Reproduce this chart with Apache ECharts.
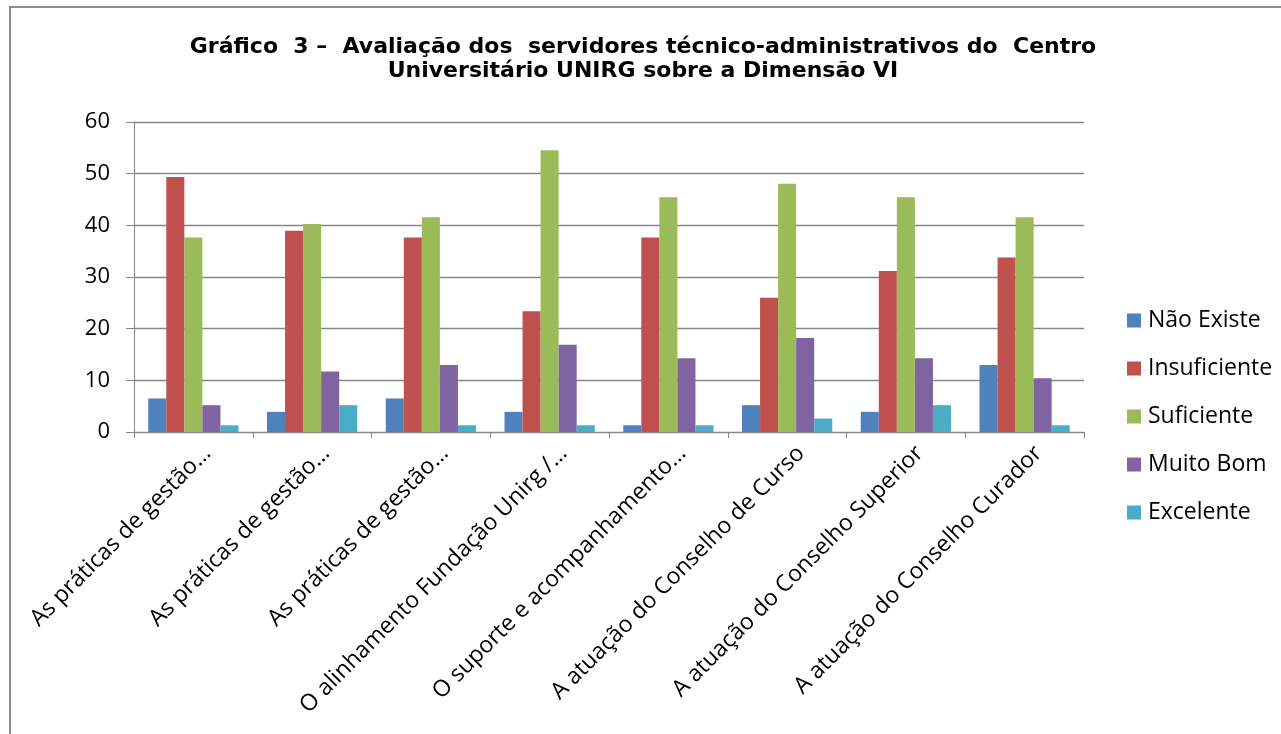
<!DOCTYPE html>
<html>
<head>
<meta charset="utf-8">
<script src="https://cdn.jsdelivr.net/npm/echarts@6/dist/echarts.min.js"></script>
<style>
html,body{margin:0;padding:0;background:#fff;}
#c{width:1281px;height:734px;}
</style>
</head>
<body>
<div id="c"></div>
<script>
const categories = [
  "As práticas de gestão…",
  "As práticas de gestão…",
  "As práticas de gestão…",
  "O alinhamento Fundação Unirg /…",
  "O suporte e acompanhamento…",
  "A atuação do Conselho de Curso",
  "A atuação do Conselho Superior",
  "A atuação do Conselho Curador"
];
const seriesNames = ["Não Existe", "Insuficiente", "Suficiente", "Muito Bom", "Excelente"];
const naoExiste   = [6.49, 3.90, 6.49, 3.90, 1.30, 5.19, 3.90, 12.99];
const insuficiente = [49.35, 38.96, 37.66, 23.38, 37.66, 25.97, 31.17, 33.77];
const suficiente  = [37.66, 40.26, 41.56, 54.55, 45.45, 48.05, 45.45, 41.56];
const muitoBom    = [5.19, 11.69, 12.99, 16.88, 14.29, 18.18, 14.29, 10.39];
const excelente   = [1.30, 5.19, 1.30, 1.30, 1.30, 2.60, 5.19, 1.30];
const yTicks = [0, 10, 20, 30, 40, 50, 60];
const colors = ["#4F81BD", "#C0504D", "#9BBB59", "#8064A2", "#4BACC6"];

const allValues = [naoExiste, insuficiente, suficiente, muitoBom, excelente];
const chart = echarts.init(document.getElementById('c'), null, {renderer: 'canvas'});
const axisGray = '#868686';
const font = '"Open Sans", "Noto Sans", sans-serif';

chart.setOption({
  animation: false,
  color: colors,
  title: {
    text: "Gráfico  3 –  Avaliação dos  servidores técnico-administrativos do  Centro\nUniversitário UNIRG sobre a Dimensão VI",
    left: 643,
    textAlign: 'center',
    top: 35,
    padding: 0,
    textStyle: {
      fontFamily: '"DejaVu Sans", sans-serif',
      fontWeight: 'bold',
      fontSize: 22,
      lineHeight: 24,
      color: '#000'
    }
  },
  graphic: [{
    type: 'rect',
    shape: {x: 10, y: 7, width: 1320, height: 800},
    style: {fill: 'none', stroke: '#8c8c8c', lineWidth: 2},
    silent: true
  }],
  legend: {
    orient: 'vertical',
    left: 1127,
    top: 309,
    padding: 0,
    itemWidth: 14,
    itemHeight: 14,
    itemGap: 25,
    icon: 'rect',
    data: seriesNames,
    textStyle: {fontFamily: font, fontSize: 23, lineHeight: 23, color: '#000', padding: [0,0,0,2]}
  },
  grid: {left: 134, right: 197, top: 122, bottom: 302, containLabel: false},
  xAxis: {
    type: 'category',
    data: categories,
    boundaryGap: true,
    axisLine: {lineStyle: {color: axisGray, width: 1}},
    axisTick: {show: true, alignWithLabel: false, length: 6, lineStyle: {color: axisGray}},
    axisLabel: {
      interval: 0,
      rotate: 45,
      margin: 4,
      verticalAlign: 'top',
      padding: [8, 0, 0, 0],
      fontFamily: font,
      fontSize: 23,
      color: '#000'
    }
  },
  yAxis: {
    type: 'value',
    min: 0,
    max: 60,
    interval: 10,
    axisLine: {show: true, lineStyle: {color: axisGray, width: 1}},
    axisTick: {show: true, length: 8, lineStyle: {color: axisGray}},
    splitLine: {show: true, lineStyle: {color: axisGray, width: 1.3}},
    axisLabel: {
      margin: 24,
      fontFamily: font,
      fontSize: 22,
      color: '#000',
      formatter: function (v) { return yTicks.indexOf(v) >= 0 ? String(v) : ''; }
    }
  },
  series: seriesNames.map(function (name, i) {
    return {
      name: name,
      type: 'bar',
      data: allValues[i],
      barGap: '0%',
      barCategoryGap: '24%',
      itemStyle: {color: colors[i]}
    };
  })
});
</script>
</body>
</html>
